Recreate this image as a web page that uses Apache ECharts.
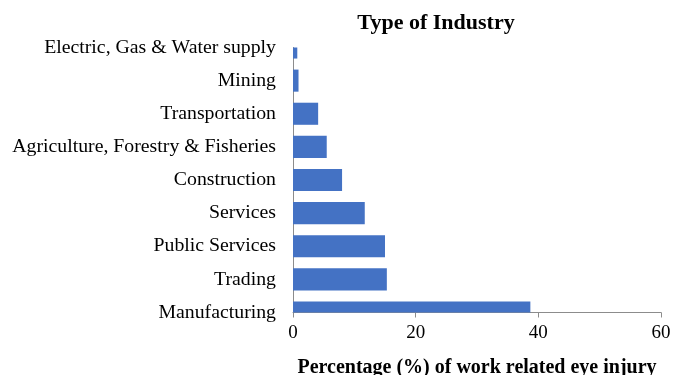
<!DOCTYPE html>
<html>
<head>
<meta charset="utf-8">
<script src="https://cdn.jsdelivr.net/npm/echarts@6/dist/echarts.min.js"></script>
<style>
  html, body { margin: 0; padding: 0; background: #fff; }
  #chart { width: 674px; height: 375px; }
</style>
</head>
<body>
<div id="chart"></div>
<script>
// Share of work related eye injuries by industry type (%)
const industries = [
  'Electric, Gas & Water supply',
  'Mining',
  'Transportation',
  'Agriculture, Forestry & Fisheries',
  'Construction',
  'Services',
  'Public Services',
  'Trading',
  'Manufacturing'
];
const percentages = [0.7, 0.9, 4.1, 5.5, 8.0, 11.7, 15.0, 15.3, 38.7];
const xTicks = [0, 20, 40, 60];

const serif = '"Liberation Serif", "DejaVu Serif", serif';
const axisGrey = '#8c8c8c';
const barColor = '#4472c4';

// Horizontal bars, two thirds of the category step thick, cut off at the plot edges
function renderBar(params, api) {
  const cat = api.value(1);
  const base = api.coord([0, cat]);
  const tip = api.coord([api.value(0), cat]);
  const thick = api.size([0, 1])[1] * 2 / 3;
  const rect = echarts.graphic.clipRectByRect(
    { x: base[0], y: base[1] - thick / 2, width: tip[0] - base[0], height: thick },
    { x: params.coordSys.x, y: params.coordSys.y, width: params.coordSys.width, height: params.coordSys.height }
  );
  if (!rect) return null;
  return { type: 'rect', shape: rect, style: { fill: barColor } };
}

const chart = echarts.init(document.getElementById('chart'), null, { renderer: 'canvas' });
chart.setOption({
  animation: false,
  backgroundColor: '#fff',
  title: {
    text: 'Type of Industry',
    left: 431,
    top: 7,
    textAlign: 'center',
    textStyle: { fontFamily: serif, fontSize: 22, fontWeight: 'bold', color: '#000' }
  },
  grid: {
    left: 293, top: 47.5, width: 368, height: 265,
    containLabel: false,
    outerBoundsMode: 'none'
  },
  xAxis: {
    type: 'value',
    min: xTicks[0],
    max: xTicks[xTicks.length - 1],
    interval: 20,
    name: 'Percentage (%) of work related eye injury',
    nameLocation: 'middle',
    nameGap: 45,
    nameTextStyle: { fontFamily: serif, fontSize: 20, fontWeight: 'bold', color: '#000' },
    axisLine: { show: true, lineStyle: { color: axisGrey, width: 1 } },
    axisTick: { show: true, length: 5, lineStyle: { color: axisGrey } },
    axisLabel: { fontFamily: serif, fontSize: 19, color: '#000', margin: 11 },
    splitLine: { show: false }
  },
  yAxis: {
    type: 'category',
    data: industries,
    inverse: true,
    boundaryGap: false,
    axisLine: { show: true, lineStyle: { color: axisGrey, width: 1 } },
    axisTick: { show: false },
    axisLabel: { fontFamily: serif, fontSize: 19.8, color: '#000', margin: 17 },
    splitLine: { show: false }
  },
  series: [{
    type: 'custom',
    renderItem: renderBar,
    encode: { x: 0, y: 1 },
    data: percentages.map((v, i) => [v, industries[i]]),
    z: 1
  }]
});
</script>
</body>
</html>
